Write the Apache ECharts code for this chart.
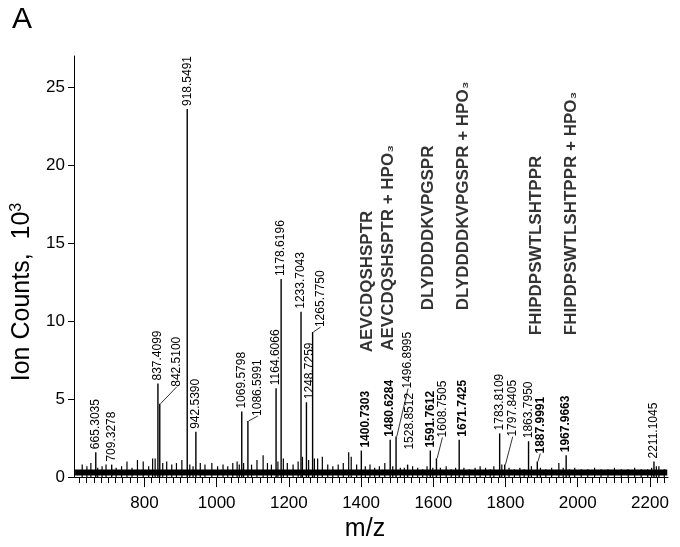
<!DOCTYPE html>
<html>
<head>
<meta charset="utf-8">
<script src="https://cdn.jsdelivr.net/npm/echarts@6/dist/echarts.min.js"></script>
<style>
html, body { margin: 0; padding: 0; background: #fff; }
#chart { width: 680px; height: 547px; }
</style>
</head>
<body>
<div id="chart"></div>
<script>
// labelled peaks, m/z and height in 10^3 counts
var peakMz = [665.3035, 709.3278, 837.4099, 842.5100, 918.5491, 942.5390, 1069.5798, 1086.5991,
  1164.6066, 1178.6196, 1233.7043, 1248.7259, 1265.7750, 1400.7303, 1480.6284, 1496.8995,
  1528.8512, 1591.7612, 1608.7505, 1671.7425, 1783.8109, 1797.8405, 1863.7950, 1887.9991,
  1967.9663, 2211.1045];
var peakHeight = [1.6, 0.8, 6.0, 4.7, 23.6, 2.9, 4.2, 3.6,
  5.7, 12.7, 10.6, 4.8, 9.3, 1.7, 2.4, 2.6,
  0.8, 1.7, 1.2, 2.4, 2.8, 0.8, 2.3, 1.0,
  1.4, 1.0];
// peaks whose labels are printed bold (matched peptides)
var boldPeaks = [1400.7303, 1480.6284, 1591.7612, 1671.7425, 1887.9991, 1967.9663];

// small unlabelled peaks / noise spikes
var noiseMz = [628, 641, 652, 671, 683, 694, 722, 737, 752, 766, 781, 797, 812, 823, 830, 851,
  862, 876, 889, 904, 926, 935, 955, 968, 987, 1003, 1018, 1031, 1045, 1057, 1063, 1075,
  1097, 1112, 1129, 1141, 1152, 1170, 1185, 1196, 1212, 1226, 1238, 1255, 1271, 1280,
  1293, 1308, 1322, 1337, 1351, 1366, 1373, 1388, 1412, 1425, 1438, 1451, 1466, 1488,
  1509, 1520, 1543, 1557, 1571, 1583, 1599, 1620, 1636, 1650, 1662, 1685, 1700, 1716,
  1730, 1745, 1758, 1768, 1790, 1810, 1825, 1840, 1852, 1872, 1897, 1912, 1928, 1948,
  1960, 1977, 1992, 2010, 2028, 2047, 2065, 2084, 2102, 2121, 2140, 2158, 2176, 2194,
  2205, 2218, 2225, 2240];
var noiseHeight = [0.8, 0.7, 0.9, 0.6, 0.7, 0.8, 0.6, 0.7, 1.0, 0.6, 1.1, 1.0, 0.7, 1.2, 1.2, 0.9,
  1.0, 0.8, 0.9, 1.1, 0.8, 0.7, 0.9, 0.8, 0.9, 0.7, 0.8, 0.7, 0.9, 1.0, 0.8, 0.9,
  0.8, 1.1, 1.4, 0.9, 0.8, 1.0, 1.2, 0.9, 0.8, 1.0, 1.3, 1.1, 1.2, 1.2,
  1.3, 0.8, 0.7, 0.8, 0.9, 1.6, 1.3, 0.8, 0.7, 0.8, 0.6, 0.7, 0.9, 0.7,
  0.6, 0.6, 0.7, 0.6, 0.5, 0.7, 0.6, 0.6, 0.7, 0.5, 0.6, 0.6, 0.5, 0.6,
  0.7, 0.6, 0.5, 0.7, 0.8, 0.6, 0.5, 0.6, 0.5, 0.7, 0.6, 0.5, 0.6, 0.9,
  0.6, 0.5, 0.6, 0.5, 0.5, 0.6, 0.5, 0.5, 0.6, 0.5, 0.5, 0.6, 0.5, 0.5,
  0.6, 0.7, 0.7, 0.5];
// noise floor level
var baseMz = [608, 2248];
var baseLevel = [0.3, 0.3];

// peptide assignments and where their names sit (m/z, 10^3 counts)
var peptideNames = ['AEVCDQSHSPTR', 'AEVCDQSHSPTR + HPO\u2083', 'DLYDDDDKVPGSPR',
  'DLYDDDDKVPGSPR + HPO\u2083', 'FHIPDPSWTLSHTPPR', 'FHIPDPSWTLSHTPPR + HPO\u2083'];
var peptideMz = [1418, 1476, 1587, 1682, 1884, 1981];
var peptideLevel = [8.0, 8.1, 10.7, 10.7, 9.1, 9.1];

// axis ticks
var majorTicks = [800, 1000, 1200, 1400, 1600, 1800, 2000, 2200];
var yTicks = [0, 5, 10, 15, 20, 25];
var minorTicks = [];
for (var t = 620; t <= 2240; t += 20) minorTicks.push(t);

// screen shifts [right, down] in px for labels that sit off their peak
var labelShift = {
  '842.51': [17, -14], '1086.5991': [10, -2], '1265.775': [8, -2], '1400.7303': [4, 0],
  '1496.8995': [12, -45], '1528.8512': [2, -12], '1608.7505': [6, -18],
  '1797.8405': [8, -25], '1887.9991': [3, -5], '1248.7259': [3, 0], '1671.7425': [3, 0]
};
var withLeader = ['842.51', '1086.5991', '1265.775', '1496.8995', '1608.7505', '1797.8405', '1887.9991'];

var font = 'Liberation Sans, Arial, Helvetica, sans-serif';

var peakData = [];
for (var i = 0; i < peakMz.length; i++) {
  var key = String(peakMz[i]);
  var bold = boldPeaks.indexOf(peakMz[i]) >= 0;
  peakData.push({
    value: [peakMz[i], peakHeight[i]],
    label: {
      show: true,
      formatter: peakMz[i].toFixed(4),
      fontWeight: bold ? 'bold' : 'normal'
    },
    labelLine: { show: withLeader.indexOf(key) >= 0 }
  });
}
var noiseData = [];
for (var i = 0; i < noiseMz.length; i++) noiseData.push([noiseMz[i], noiseHeight[i]]);
var baseData = [];
for (var i = 0; i < baseMz.length; i++) baseData.push([baseMz[i], baseLevel[i]]);
var pepData = [];
for (var i = 0; i < peptideNames.length; i++) pepData.push({ value: [peptideMz[i], peptideLevel[i]], name: peptideNames[i] });

var chart = echarts.init(document.getElementById('chart'));
var option = {
  animation: false,
  backgroundColor: '#fff',
  grid: { left: 74, right: 12, top: 56, bottom: 65 },
  xAxis: [
    {
      type: 'value', min: 605, max: 2250,
      axisLine: { lineStyle: { color: '#000', width: 1 } },
      axisTick: { show: true, inside: false, length: 6, customValues: minorTicks, lineStyle: { color: '#000' } },
      axisLabel: { show: false },
      splitLine: { show: false }
    },
    {
      type: 'value', min: 605, max: 2250, position: 'bottom', offset: 0,
      axisLine: { show: false },
      axisTick: { show: true, length: 10, customValues: majorTicks, lineStyle: { color: '#000' } },
      axisLabel: {
        customValues: majorTicks, color: '#000', fontSize: 17, fontFamily: font, margin: 18,
        formatter: function (v) { return String(v); }
      },
      splitLine: { show: false },
      name: 'm/z', nameLocation: 'middle', nameGap: 36,
      nameTextStyle: { color: '#000', fontSize: 25, fontFamily: font, padding: [0, 12, 0, 0] }
    }
  ],
  yAxis: {
    type: 'value', min: 0, max: 27,
    axisLine: { show: true, lineStyle: { color: '#000', width: 1 } },
    axisTick: { show: true, length: 6, customValues: yTicks, lineStyle: { color: '#000' } },
    axisLabel: { customValues: yTicks, color: '#000', fontSize: 17, fontFamily: font, margin: 9 },
    splitLine: { show: false }
  },
  graphic: [
    { type: 'text', left: 12, top: 5, style: { text: 'A', fontSize: 30, fontFamily: font, fill: '#000' } },
    {
      type: 'text', x: 22, y: 292, rotation: Math.PI / 2,
      style: {
        text: 'Ion Counts,  10{s|3}', fontSize: 25, fontFamily: font, fill: '#000',
        align: 'center', verticalAlign: 'middle',
        rich: { s: { fontSize: 16, fontFamily: font, fill: '#000', verticalAlign: 'top', padding: [0, 0, 10, 0] } }
      }
    }
  ],
  series: [
    {
      type: 'line', data: baseData, symbol: 'none', silent: true,
      lineStyle: { color: '#000', width: 6 }
    },
    {
      type: 'bar', data: noiseData, barWidth: 1.2, silent: true,
      itemStyle: { color: '#000' }
    },
    {
      type: 'bar', data: peakData, barWidth: 1.4, barGap: '-100%',
      itemStyle: { color: '#000' },
      label: {
        position: 'top', distance: 3, rotate: 90, align: 'left', verticalAlign: 'middle',
        color: '#000', fontSize: 12, fontFamily: font
      },
      labelLine: { lineStyle: { color: '#000', width: 0.8 } },
      labelLayout: function (params) {
        var s = labelShift[String(peakMz[params.dataIndex])];
        if (!s) return {};
        // label frame is turned 90 degrees, so map screen shift into it
        return { dx: -s[1], dy: s[0] };
      }
    },
    {
      type: 'scatter', data: pepData, symbolSize: 0, silent: true,
      label: {
        show: true, position: 'top', distance: 0, rotate: 90, align: 'left', verticalAlign: 'middle',
        formatter: '{b}', color: '#000', fontSize: 17, fontWeight: 'bold', fontFamily: font
      }
    }
  ]
};
chart.setOption(option);
</script>
</body>
</html>
